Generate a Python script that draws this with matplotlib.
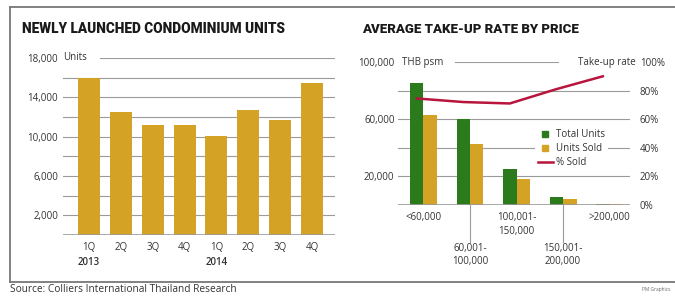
import matplotlib
matplotlib.use("Agg")
import matplotlib.pyplot as plt
from matplotlib.lines import Line2D
import numpy as np

# ---- data ----
quarters = ["1Q", "2Q", "3Q", "4Q", "1Q", "2Q", "3Q", "4Q"]
years = {0: "2013", 4: "2014"}
launched_units = [16000, 12500, 11200, 11200, 10100, 12750, 11700, 15500]

price_bands = ["<60,000", "60,001-\n100,000", "100,001-\n150,000",
               "150,001-\n200,000", ">200,000"]
total_units = [85000, 60000, 25500, 5500, 700]
units_sold = [63000, 43000, 18000, 4500, 600]
pct_sold = [74.5, 72.0, 71.0, 81.0, 90.0]

GOLD = "#d4a224"
GREEN = "#2b7a1c"
RED = "#b8143c"
GRID = "#9a9a9a"
TXT = "#333333"
W, H = 675, 297
FS = 7

plt.rcParams['font.family'] = ['Open Sans', 'DejaVu Sans']
TITLE_FONT = ['Roboto', 'DejaVu Sans']

fig = plt.figure(figsize=(6.75, 2.97), dpi=100)


def fx(x):
    return x / W


def fy(y):
    return (H - y) / H


# outer frame
fig.add_artist(Line2D([fx(10), 1], [fy(7), fy(7)], color="#777777", lw=1.3))
fig.add_artist(Line2D([fx(10), fx(10)], [fy(7), fy(282)], color="#777777", lw=1.3))
fig.add_artist(Line2D([fx(10), 1], [fy(282), fy(282)], color="#777777", lw=1.3))

fig.text(fx(22), fy(33), "NEWLY LAUNCHED CONDOMINIUM UNITS", family=TITLE_FONT,
         fontweight='black', fontsize=9.8, color="#1a1a1a", va='baseline')
fig.text(fx(362), fy(33), "AVERAGE TAKE-UP RATE BY PRICE", family=TITLE_FONT,
         fontweight='black', fontsize=9.5, color="#1a1a1a", va='baseline')
fig.text(fx(10), fy(290), "Source: Colliers International Thailand Research",
         fontsize=7.3, color=TXT, va='center')
fig.text(fx(670), fy(289), "PM Graphics", fontsize=3.5, color="#666666",
         va='center', ha='right')

# ---- left chart ----
ax1 = fig.add_axes([fx(63), fy(235), fx(335 - 63), (235 - 58) / H])
x1 = np.arange(len(launched_units))
trans = ax1.get_yaxis_transform()
for v in range(2000, 16001, 2000):
    ax1.plot([0, 1], [v, v], transform=trans, color=GRID, lw=0.8, zorder=1)
ax1.plot([(100 - 63) / (335 - 63), 1], [18000, 18000], transform=trans,
         color=GRID, lw=0.8, zorder=1)
ax1.plot([0, 1], [0, 0], transform=trans, color=GRID, lw=1.2, zorder=3)
ax1.bar(x1, launched_units, width=0.69, color=GOLD, zorder=2)
ax1.set_xlim(-0.816, 7.72)
ax1.set_ylim(0, 18000)
ax1.set_yticks(range(2000, 18001, 4000))
ax1.set_yticklabels([f"{v:,}" for v in range(2000, 18001, 4000)],
                    fontsize=FS, color=TXT)
ax1.tick_params(axis='y', length=0, pad=3.5)
ax1.set_xticks(x1)
ax1.set_xticklabels(quarters, fontsize=FS, color=TXT)
ax1.tick_params(axis='x', length=0, pad=5)
for i, yr in years.items():
    ax1.text(x1[i], -0.155, yr, transform=ax1.get_xaxis_transform(),
             ha='center', va='center', fontsize=FS, fontweight='semibold', color=TXT)
ax1.text(-0.0, 18000, "Units", transform=trans, fontsize=FS, color=TXT,
         va='center', ha='left')
for s in ax1.spines.values():
    s.set_visible(False)

# ---- right chart ----
ax2 = fig.add_axes([fx(398), fy(205), fx(630 - 398), (205 - 62) / H])
x2 = np.arange(len(price_bands))
bw = 0.29
tr2 = ax2.get_yaxis_transform()
for v in range(20000, 80001, 20000):
    ax2.plot([0, 1], [v, v], transform=tr2, color=GRID, lw=0.8, zorder=1)
ax2.plot([(455 - 398) / 232, (558 - 398) / 232], [100000, 100000],
         transform=tr2, color=GRID, lw=0.8, zorder=1)
ax2.plot([0, 1], [0, 0], transform=tr2, color=GRID, lw=1.2, zorder=3)
b1 = ax2.bar(x2 - bw / 2, total_units, width=bw, color=GREEN, zorder=2)
b2 = ax2.bar(x2 + bw / 2, units_sold, width=bw, color=GOLD, zorder=2)
ax2.set_xlim(-0.548, 4.44)
ax2.set_ylim(0, 100000)
ax2.set_yticks([20000, 60000, 100000])
ax2.set_yticklabels(["20,000", "60,000", "100,000"], fontsize=FS, color=TXT)
ax2.tick_params(axis='y', length=0, pad=2.5)
ax2.set_xticks([])
ax2.text(0.018, 100000, "THB psm", transform=tr2, fontsize=FS, color=TXT,
         va='center', ha='left')
for s in ax2.spines.values():
    s.set_visible(False)

xtr = ax2.get_xaxis_transform()
for i, lab in enumerate(price_bands):
    if i % 2 == 0:
        ax2.text(x2[i], -0.05, lab, transform=xtr, ha='center', va='top',
                 fontsize=FS, color=TXT, linespacing=1.3)
    else:
        ax2.plot([x2[i], x2[i]], [0, -0.26], transform=xtr, color=GRID,
                 lw=0.8, clip_on=False)
        ax2.text(x2[i], -0.265, lab, transform=xtr, ha='center', va='top',
                 fontsize=FS, color=TXT, linespacing=1.3)

ax3 = ax2.twinx()
ax3.plot(x2 - bw / 2, pct_sold, color=RED, lw=1.8, zorder=4)
ax3.set_ylim(0, 100)
ax3.set_yticks(range(0, 101, 20))
ax3.set_yticklabels([f"{v}%" for v in range(0, 101, 20)], fontsize=FS, color=TXT)
ax3.tick_params(axis='y', length=0, pad=7)
ax3.text(1.025, 100, "Take-up rate", transform=ax3.get_yaxis_transform(),
         fontsize=FS, color=TXT, va='center', ha='right')
for s in ax3.spines.values():
    s.set_visible(False)

handles = [Line2D([], [], marker='s', ms=5, ls='none', color=GREEN),
           Line2D([], [], marker='s', ms=5, ls='none', color=GOLD),
           Line2D([], [], color=RED, lw=1.8)]
leg = ax3.legend(handles, ["Total Units", "Units Sold", "% Sold"],
                 loc='upper left', bbox_to_anchor=(0.57, 0.585), fontsize=FS,
                 frameon=True, handlelength=1.5, handletextpad=0.3,
                 labelspacing=0.3, borderpad=0.3)
leg.get_frame().set_facecolor('white')
leg.get_frame().set_edgecolor('none')
leg.get_frame().set_alpha(1)
for t in leg.get_texts():
    t.set_color(TXT)

fig.savefig("out.png", dpi=100)
